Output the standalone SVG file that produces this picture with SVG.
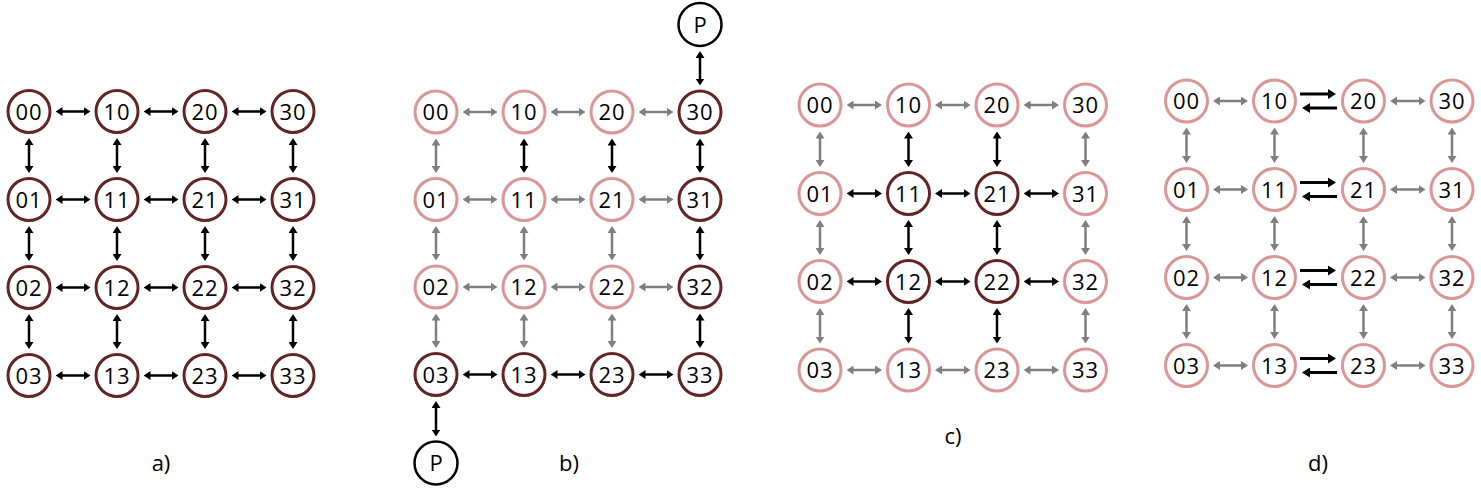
<svg xmlns="http://www.w3.org/2000/svg" width="1481" height="491" viewBox="0 0 1481 491">
<style>
.dk{fill:#fff;stroke:#632523;stroke-width:3}
.pk{fill:#fff;stroke:#D99694;stroke-width:3}
.bk{fill:#fff;stroke:#000;stroke-width:2.5}
.t{font-family:"Open Sans","Liberation Sans",sans-serif;font-size:22px;text-anchor:middle;fill:#000;letter-spacing:1px}
.lb{font-family:"Open Sans","Liberation Sans",sans-serif;font-size:22px;text-anchor:middle;fill:#000}
.k{stroke:#000;stroke-width:2.5;marker-start:url(#hk);marker-end:url(#hk)}
.g{stroke:#7f7f7f;stroke-width:2.5;marker-start:url(#hg);marker-end:url(#hg)}
.kk{stroke:#000;stroke-width:3;marker-end:url(#hk2)}
</style>
<defs>
<marker id="hk" viewBox="0 0 7 9" refX="3" refY="4.5" markerWidth="7" markerHeight="9" markerUnits="userSpaceOnUse" orient="auto-start-reverse"><path d="M0,0L7,4.5L0,9z" fill="#000"/></marker>
<marker id="hg" viewBox="0 0 7 9" refX="3" refY="4.5" markerWidth="7" markerHeight="9" markerUnits="userSpaceOnUse" orient="auto-start-reverse"><path d="M0,0L7,4.5L0,9z" fill="#7f7f7f"/></marker>
<marker id="hk2" viewBox="0 0 8 10" refX="3" refY="5" markerWidth="8" markerHeight="10" markerUnits="userSpaceOnUse" orient="auto"><path d="M0,0L8,5L0,10z" fill="#000"/></marker>
</defs>
<rect width="1481" height="491" fill="#fff"/>

<g id="connectors">
<g id="conn-a">
<line class="k" x1="59.5" y1="111.5" x2="86.5" y2="111.5"/><line class="k" x1="147.5" y1="111.5" x2="174.5" y2="111.5"/><line class="k" x1="235.5" y1="111.5" x2="262.5" y2="111.5"/>
<line class="k" x1="59.5" y1="199.5" x2="86.5" y2="199.5"/><line class="k" x1="147.5" y1="199.5" x2="174.5" y2="199.5"/><line class="k" x1="235.5" y1="199.5" x2="262.5" y2="199.5"/>
<line class="k" x1="59.5" y1="287.5" x2="86.5" y2="287.5"/><line class="k" x1="147.5" y1="287.5" x2="174.5" y2="287.5"/><line class="k" x1="235.5" y1="287.5" x2="262.5" y2="287.5"/>
<line class="k" x1="59.5" y1="375.5" x2="86.5" y2="375.5"/><line class="k" x1="147.5" y1="375.5" x2="174.5" y2="375.5"/><line class="k" x1="235.5" y1="375.5" x2="262.5" y2="375.5"/>
<line class="k" x1="29" y1="142" x2="29" y2="169"/><line class="k" x1="29" y1="230" x2="29" y2="257"/><line class="k" x1="29" y1="318" x2="29" y2="345"/>
<line class="k" x1="117" y1="142" x2="117" y2="169"/><line class="k" x1="117" y1="230" x2="117" y2="257"/><line class="k" x1="117" y1="318" x2="117" y2="345"/>
<line class="k" x1="205" y1="142" x2="205" y2="169"/><line class="k" x1="205" y1="230" x2="205" y2="257"/><line class="k" x1="205" y1="318" x2="205" y2="345"/>
<line class="k" x1="293" y1="142" x2="293" y2="169"/><line class="k" x1="293" y1="230" x2="293" y2="257"/><line class="k" x1="293" y1="318" x2="293" y2="345"/>
</g>
<g id="conn-b">
<line class="g" x1="466.5" y1="112" x2="493.5" y2="112"/><line class="g" x1="554.5" y1="112" x2="581.5" y2="112"/><line class="g" x1="642.5" y1="112" x2="669.5" y2="112"/>
<line class="g" x1="466.5" y1="199.5" x2="493.5" y2="199.5"/><line class="g" x1="554.5" y1="199.5" x2="581.5" y2="199.5"/><line class="g" x1="642.5" y1="199.5" x2="669.5" y2="199.5"/>
<line class="g" x1="466.5" y1="287" x2="493.5" y2="287"/><line class="g" x1="554.5" y1="287" x2="581.5" y2="287"/><line class="g" x1="642.5" y1="287" x2="669.5" y2="287"/>
<line class="k" x1="466.5" y1="374.5" x2="493.5" y2="374.5"/><line class="k" x1="554.5" y1="374.5" x2="581.5" y2="374.5"/><line class="k" x1="642.5" y1="374.5" x2="669.5" y2="374.5"/>
<line class="g" x1="436" y1="142.5" x2="436" y2="169"/><line class="g" x1="436" y1="230" x2="436" y2="256.5"/><line class="g" x1="436" y1="317.5" x2="436" y2="344"/>
<line class="k" x1="524" y1="142.5" x2="524" y2="169"/><line class="g" x1="524" y1="230" x2="524" y2="256.5"/><line class="g" x1="524" y1="317.5" x2="524" y2="344"/>
<line class="k" x1="612" y1="142.5" x2="612" y2="169"/><line class="g" x1="612" y1="230" x2="612" y2="256.5"/><line class="g" x1="612" y1="317.5" x2="612" y2="344"/>
<line class="k" x1="700" y1="142.5" x2="700" y2="169"/><line class="k" x1="700" y1="230" x2="700" y2="256.5"/><line class="k" x1="700" y1="317.5" x2="700" y2="344"/>
<line class="k" x1="700" y1="55" x2="700" y2="81.5"/>
<line class="k" x1="436" y1="405" x2="436" y2="432.5"/>
</g>
<g id="conn-c">
<line class="g" x1="850.5" y1="105" x2="878" y2="105"/><line class="g" x1="939" y1="105" x2="966.5" y2="105"/><line class="g" x1="1027.5" y1="105" x2="1055" y2="105"/>
<line class="k" x1="850.5" y1="193.5" x2="878" y2="193.5"/><line class="k" x1="939" y1="193.5" x2="966.5" y2="193.5"/><line class="k" x1="1027.5" y1="193.5" x2="1055" y2="193.5"/>
<line class="k" x1="850.5" y1="281.5" x2="878" y2="281.5"/><line class="k" x1="939" y1="281.5" x2="966.5" y2="281.5"/><line class="k" x1="1027.5" y1="281.5" x2="1055" y2="281.5"/>
<line class="g" x1="850.5" y1="370" x2="878" y2="370"/><line class="g" x1="939" y1="370" x2="966.5" y2="370"/><line class="g" x1="1027.5" y1="370" x2="1055" y2="370"/>
<line class="g" x1="820" y1="135.5" x2="820" y2="163"/><line class="g" x1="820" y1="224" x2="820" y2="251"/><line class="g" x1="820" y1="312" x2="820" y2="339.5"/>
<line class="k" x1="908.5" y1="135.5" x2="908.5" y2="163"/><line class="k" x1="908.5" y1="224" x2="908.5" y2="251"/><line class="k" x1="908.5" y1="312" x2="908.5" y2="339.5"/>
<line class="k" x1="997" y1="135.5" x2="997" y2="163"/><line class="k" x1="997" y1="224" x2="997" y2="251"/><line class="k" x1="997" y1="312" x2="997" y2="339.5"/>
<line class="g" x1="1085.5" y1="135.5" x2="1085.5" y2="163"/><line class="g" x1="1085.5" y1="224" x2="1085.5" y2="251"/><line class="g" x1="1085.5" y1="312" x2="1085.5" y2="339.5"/>
</g>
<g id="conn-d">
<line class="g" x1="1217" y1="101" x2="1244" y2="101"/><line class="g" x1="1394" y1="101" x2="1421.5" y2="101"/>
<line class="g" x1="1217" y1="189.5" x2="1244" y2="189.5"/><line class="g" x1="1394" y1="189.5" x2="1421.5" y2="189.5"/>
<line class="g" x1="1217" y1="277.5" x2="1244" y2="277.5"/><line class="g" x1="1394" y1="277.5" x2="1421.5" y2="277.5"/>
<line class="g" x1="1217" y1="365.5" x2="1244" y2="365.5"/><line class="g" x1="1394" y1="365.5" x2="1421.5" y2="365.5"/>
<line class="kk" x1="1300" y1="94" x2="1331" y2="94"/><line class="kk" x1="1337" y1="108" x2="1307" y2="108"/>
<line class="kk" x1="1300" y1="182.5" x2="1331" y2="182.5"/><line class="kk" x1="1337" y1="196.5" x2="1307" y2="196.5"/>
<line class="kk" x1="1300" y1="270.5" x2="1331" y2="270.5"/><line class="kk" x1="1337" y1="284.5" x2="1307" y2="284.5"/>
<line class="kk" x1="1300" y1="358.5" x2="1331" y2="358.5"/><line class="kk" x1="1337" y1="372.5" x2="1307" y2="372.5"/>
<line class="g" x1="1186.5" y1="131.5" x2="1186.5" y2="159"/><line class="g" x1="1186.5" y1="220" x2="1186.5" y2="247"/><line class="g" x1="1186.5" y1="308" x2="1186.5" y2="335"/>
<line class="g" x1="1274.5" y1="131.5" x2="1274.5" y2="159"/><line class="g" x1="1274.5" y1="220" x2="1274.5" y2="247"/><line class="g" x1="1274.5" y1="308" x2="1274.5" y2="335"/>
<line class="g" x1="1363.5" y1="131.5" x2="1363.5" y2="159"/><line class="g" x1="1363.5" y1="220" x2="1363.5" y2="247"/><line class="g" x1="1363.5" y1="308" x2="1363.5" y2="335"/>
<line class="g" x1="1452" y1="131.5" x2="1452" y2="159"/><line class="g" x1="1452" y1="220" x2="1452" y2="247"/><line class="g" x1="1452" y1="308" x2="1452" y2="335"/>
</g>
</g>

<g id="panel-a">
<g id="a-00"><circle class="dk" cx="29" cy="111.5" r="21"/><text class="t" x="29" y="119.5">00</text></g>
<g id="a-10"><circle class="dk" cx="117" cy="111.5" r="21"/><text class="t" x="117" y="119.5">10</text></g>
<g id="a-20"><circle class="dk" cx="205" cy="111.5" r="21"/><text class="t" x="205" y="119.5">20</text></g>
<g id="a-30"><circle class="dk" cx="293" cy="111.5" r="21"/><text class="t" x="293" y="119.5">30</text></g>
<g id="a-01"><circle class="dk" cx="29" cy="199.5" r="21"/><text class="t" x="29" y="207.5">01</text></g>
<g id="a-11"><circle class="dk" cx="117" cy="199.5" r="21"/><text class="t" x="117" y="207.5">11</text></g>
<g id="a-21"><circle class="dk" cx="205" cy="199.5" r="21"/><text class="t" x="205" y="207.5">21</text></g>
<g id="a-31"><circle class="dk" cx="293" cy="199.5" r="21"/><text class="t" x="293" y="207.5">31</text></g>
<g id="a-02"><circle class="dk" cx="29" cy="287.5" r="21"/><text class="t" x="29" y="295.5">02</text></g>
<g id="a-12"><circle class="dk" cx="117" cy="287.5" r="21"/><text class="t" x="117" y="295.5">12</text></g>
<g id="a-22"><circle class="dk" cx="205" cy="287.5" r="21"/><text class="t" x="205" y="295.5">22</text></g>
<g id="a-32"><circle class="dk" cx="293" cy="287.5" r="21"/><text class="t" x="293" y="295.5">32</text></g>
<g id="a-03"><circle class="dk" cx="29" cy="375.5" r="21"/><text class="t" x="29" y="383.5">03</text></g>
<g id="a-13"><circle class="dk" cx="117" cy="375.5" r="21"/><text class="t" x="117" y="383.5">13</text></g>
<g id="a-23"><circle class="dk" cx="205" cy="375.5" r="21"/><text class="t" x="205" y="383.5">23</text></g>
<g id="a-33"><circle class="dk" cx="293" cy="375.5" r="21"/><text class="t" x="293" y="383.5">33</text></g>
<text id="label-a" class="lb" x="161" y="471">a)</text>
</g>

<g id="panel-b">
<g id="b-P-top"><circle class="bk" cx="700" cy="24.5" r="21.5"/><text class="lb" x="700" y="32.5">P</text></g>
<g id="b-00"><circle class="pk" cx="436" cy="112" r="21"/><text class="t" x="436" y="120">00</text></g>
<g id="b-10"><circle class="pk" cx="524" cy="112" r="21"/><text class="t" x="524" y="120">10</text></g>
<g id="b-20"><circle class="pk" cx="612" cy="112" r="21"/><text class="t" x="612" y="120">20</text></g>
<g id="b-30"><circle class="dk" cx="700" cy="112" r="21"/><text class="t" x="700" y="120">30</text></g>
<g id="b-01"><circle class="pk" cx="436" cy="199.5" r="21"/><text class="t" x="436" y="207.5">01</text></g>
<g id="b-11"><circle class="pk" cx="524" cy="199.5" r="21"/><text class="t" x="524" y="207.5">11</text></g>
<g id="b-21"><circle class="pk" cx="612" cy="199.5" r="21"/><text class="t" x="612" y="207.5">21</text></g>
<g id="b-31"><circle class="dk" cx="700" cy="199.5" r="21"/><text class="t" x="700" y="207.5">31</text></g>
<g id="b-02"><circle class="pk" cx="436" cy="287" r="21"/><text class="t" x="436" y="295">02</text></g>
<g id="b-12"><circle class="pk" cx="524" cy="287" r="21"/><text class="t" x="524" y="295">12</text></g>
<g id="b-22"><circle class="pk" cx="612" cy="287" r="21"/><text class="t" x="612" y="295">22</text></g>
<g id="b-32"><circle class="dk" cx="700" cy="287" r="21"/><text class="t" x="700" y="295">32</text></g>
<g id="b-03"><circle class="dk" cx="436" cy="374.5" r="21"/><text class="t" x="436" y="382.5">03</text></g>
<g id="b-13"><circle class="dk" cx="524" cy="374.5" r="21"/><text class="t" x="524" y="382.5">13</text></g>
<g id="b-23"><circle class="dk" cx="612" cy="374.5" r="21"/><text class="t" x="612" y="382.5">23</text></g>
<g id="b-33"><circle class="dk" cx="700" cy="374.5" r="21"/><text class="t" x="700" y="382.5">33</text></g>
<g id="b-P-bottom"><circle class="bk" cx="436" cy="463" r="21.5"/><text class="lb" x="436" y="471">P</text></g>
<text id="label-b" class="lb" x="569" y="471">b)</text>
</g>

<g id="panel-c">
<g id="c-00"><circle class="pk" cx="820" cy="105" r="21"/><text class="t" x="820" y="113">00</text></g>
<g id="c-10"><circle class="pk" cx="908.5" cy="105" r="21"/><text class="t" x="908.5" y="113">10</text></g>
<g id="c-20"><circle class="pk" cx="997" cy="105" r="21"/><text class="t" x="997" y="113">20</text></g>
<g id="c-30"><circle class="pk" cx="1085.5" cy="105" r="21"/><text class="t" x="1085.5" y="113">30</text></g>
<g id="c-01"><circle class="pk" cx="820" cy="193.5" r="21"/><text class="t" x="820" y="201.5">01</text></g>
<g id="c-11"><circle class="dk" cx="908.5" cy="193.5" r="21"/><text class="t" x="908.5" y="201.5">11</text></g>
<g id="c-21"><circle class="dk" cx="997" cy="193.5" r="21"/><text class="t" x="997" y="201.5">21</text></g>
<g id="c-31"><circle class="pk" cx="1085.5" cy="193.5" r="21"/><text class="t" x="1085.5" y="201.5">31</text></g>
<g id="c-02"><circle class="pk" cx="820" cy="281.5" r="21"/><text class="t" x="820" y="289.5">02</text></g>
<g id="c-12"><circle class="dk" cx="908.5" cy="281.5" r="21"/><text class="t" x="908.5" y="289.5">12</text></g>
<g id="c-22"><circle class="dk" cx="997" cy="281.5" r="21"/><text class="t" x="997" y="289.5">22</text></g>
<g id="c-32"><circle class="pk" cx="1085.5" cy="281.5" r="21"/><text class="t" x="1085.5" y="289.5">32</text></g>
<g id="c-03"><circle class="pk" cx="820" cy="370" r="21"/><text class="t" x="820" y="378">03</text></g>
<g id="c-13"><circle class="pk" cx="908.5" cy="370" r="21"/><text class="t" x="908.5" y="378">13</text></g>
<g id="c-23"><circle class="pk" cx="997" cy="370" r="21"/><text class="t" x="997" y="378">23</text></g>
<g id="c-33"><circle class="pk" cx="1085.5" cy="370" r="21"/><text class="t" x="1085.5" y="378">33</text></g>
<text id="label-c" class="lb" x="953" y="444">c)</text>
</g>

<g id="panel-d">
<g id="d-00"><circle class="pk" cx="1186.5" cy="101" r="21"/><text class="t" x="1186.5" y="109">00</text></g>
<g id="d-10"><circle class="pk" cx="1274.5" cy="101" r="21"/><text class="t" x="1274.5" y="109">10</text></g>
<g id="d-20"><circle class="pk" cx="1363.5" cy="101" r="21"/><text class="t" x="1363.5" y="109">20</text></g>
<g id="d-30"><circle class="pk" cx="1452" cy="101" r="21"/><text class="t" x="1452" y="109">30</text></g>
<g id="d-01"><circle class="pk" cx="1186.5" cy="189.5" r="21"/><text class="t" x="1186.5" y="197.5">01</text></g>
<g id="d-11"><circle class="pk" cx="1274.5" cy="189.5" r="21"/><text class="t" x="1274.5" y="197.5">11</text></g>
<g id="d-21"><circle class="pk" cx="1363.5" cy="189.5" r="21"/><text class="t" x="1363.5" y="197.5">21</text></g>
<g id="d-31"><circle class="pk" cx="1452" cy="189.5" r="21"/><text class="t" x="1452" y="197.5">31</text></g>
<g id="d-02"><circle class="pk" cx="1186.5" cy="277.5" r="21"/><text class="t" x="1186.5" y="285.5">02</text></g>
<g id="d-12"><circle class="pk" cx="1274.5" cy="277.5" r="21"/><text class="t" x="1274.5" y="285.5">12</text></g>
<g id="d-22"><circle class="pk" cx="1363.5" cy="277.5" r="21"/><text class="t" x="1363.5" y="285.5">22</text></g>
<g id="d-32"><circle class="pk" cx="1452" cy="277.5" r="21"/><text class="t" x="1452" y="285.5">32</text></g>
<g id="d-03"><circle class="pk" cx="1186.5" cy="365.5" r="21"/><text class="t" x="1186.5" y="373.5">03</text></g>
<g id="d-13"><circle class="pk" cx="1274.5" cy="365.5" r="21"/><text class="t" x="1274.5" y="373.5">13</text></g>
<g id="d-23"><circle class="pk" cx="1363.5" cy="365.5" r="21"/><text class="t" x="1363.5" y="373.5">23</text></g>
<g id="d-33"><circle class="pk" cx="1452" cy="365.5" r="21"/><text class="t" x="1452" y="373.5">33</text></g>
<text id="label-d" class="lb" x="1318" y="471">d)</text>
</g>
</svg>
